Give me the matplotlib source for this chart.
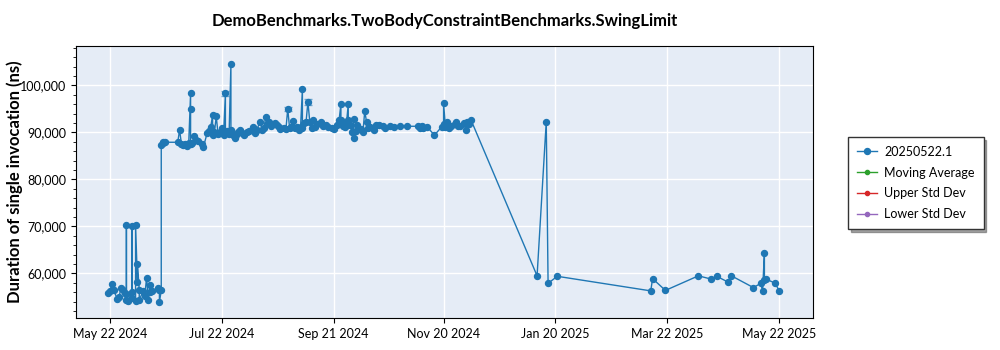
import matplotlib
matplotlib.use("Agg")
import matplotlib.pyplot as plt
import matplotlib.dates as mdates
import matplotlib.ticker as mticker
import pandas as pd

plt.rcParams['font.family'] = ['Lato', 'DejaVu Sans']

title = "DemoBenchmarks.TwoBodyConstraintBenchmarks.SwingLimit"
ylabel = "Duration of single invocation (ns)"
series_name = "20250522.1"

dates = [
    "2024-05-21", "2024-05-22", "2024-05-23", "2024-05-24", "2024-05-26", "2024-05-27",
    "2024-05-28", "2024-05-29", "2024-05-30", "2024-05-31", "2024-05-31", "2024-05-31",
    "2024-06-01", "2024-06-03", "2024-06-03", "2024-06-03", "2024-06-05", "2024-06-05",
    "2024-06-06", "2024-06-06", "2024-06-07", "2024-06-07", "2024-06-09", "2024-06-10",
    "2024-06-11", "2024-06-12", "2024-06-13", "2024-06-13", "2024-06-14", "2024-06-17",
    "2024-06-18", "2024-06-18", "2024-06-19", "2024-06-19", "2024-06-20", "2024-06-20",
    "2024-06-21",
    "2024-06-28", "2024-06-29", "2024-06-30", "2024-07-01", "2024-07-02", "2024-07-03",
    "2024-07-04", "2024-07-05", "2024-07-05", "2024-07-05", "2024-07-06", "2024-07-07",
    "2024-07-08", "2024-07-09", "2024-07-11", "2024-07-12", "2024-07-14", "2024-07-15",
    "2024-07-16", "2024-07-17", "2024-07-17", "2024-07-18", "2024-07-19", "2024-07-20",
    "2024-07-21", "2024-07-22", "2024-07-23", "2024-07-24", "2024-07-24", "2024-07-25",
    "2024-07-26", "2024-07-27", "2024-07-27", "2024-07-28", "2024-07-29", "2024-07-30",
    "2024-07-31", "2024-08-01", "2024-08-02", "2024-08-03", "2024-08-05", "2024-08-06",
    "2024-08-08", "2024-08-09", "2024-08-10", "2024-08-12", "2024-08-13", "2024-08-14",
    "2024-08-15", "2024-08-16", "2024-08-17", "2024-08-18", "2024-08-20", "2024-08-21",
    "2024-08-22", "2024-08-23", "2024-08-25", "2024-08-26", "2024-08-27", "2024-08-28",
    "2024-08-29", "2024-08-30", "2024-08-31", "2024-09-01", "2024-09-02", "2024-09-03",
    "2024-09-04", "2024-09-04", "2024-09-05", "2024-09-06", "2024-09-07", "2024-09-08",
    "2024-09-09", "2024-09-10", "2024-09-11", "2024-09-12", "2024-09-14", "2024-09-15",
    "2024-09-17", "2024-09-18", "2024-09-20", "2024-09-21", "2024-09-23", "2024-09-24",
    "2024-09-25", "2024-09-25", "2024-09-26", "2024-09-27", "2024-09-28", "2024-09-29",
    "2024-09-29", "2024-09-30", "2024-10-01", "2024-10-02", "2024-10-02", "2024-10-03",
    "2024-10-04", "2024-10-06", "2024-10-07", "2024-10-08", "2024-10-09", "2024-10-10",
    "2024-10-11", "2024-10-13", "2024-10-14", "2024-10-16", "2024-10-18", "2024-10-19",
    "2024-10-22", "2024-10-24", "2024-10-27", "2024-10-31", "2024-11-06", "2024-11-07",
    "2024-11-08", "2024-11-09", "2024-11-11", "2024-11-15", "2024-11-19", "2024-11-20",
    "2024-11-20", "2024-11-21", "2024-11-22", "2024-11-23", "2024-11-24", "2024-11-26",
    "2024-11-27", "2024-11-28", "2024-11-29", "2024-12-01", "2024-12-02", "2024-12-03",
    "2024-12-04", "2024-12-05",
    "2025-01-10", "2025-01-15", "2025-01-16", "2025-01-21", "2025-03-13", "2025-03-14",
    "2025-03-21", "2025-04-08", "2025-04-15", "2025-04-18", "2025-04-24", "2025-04-26",
    "2025-05-08", "2025-05-12", "2025-05-13", "2025-05-14", "2025-05-14", "2025-05-15",
    "2025-05-20", "2025-05-22",
]

durations = [
    55900, 56200, 57700, 56500, 54600, 54900,
    57000, 56400, 55800, 54300, 70300, 55600,
    54200, 56100, 70200, 54700, 54100, 70400,
    58200, 62000, 56500, 54300, 56200, 55200,
    59100, 54300, 57600, 56000, 56200, 57000,
    56500, 53900, 56400, 87300, 87700, 88000,
    87900,
    87900, 90500, 87600, 87300, 87500, 87200,
    87800, 98300, 94900, 87600, 87800, 89200,
    88300, 88100, 87600, 86900, 89800, 90200,
    91200, 93600, 89400, 90000, 93400, 89600,
    90100, 90900, 89500, 98300, 89900, 90300,
    89600, 104500, 90500, 89400, 88800, 89500,
    90000, 90500, 89800, 89400, 90100, 90200,
    91200, 89800, 90600, 92200, 90500, 90900,
    93300, 91900, 92200, 91300, 91900, 91500,
    91200, 90800, 91000, 90700, 95000, 90900,
    91200, 92500, 91000, 91200, 90600, 91200,
    99300, 91000, 91900, 92300, 96500, 92300,
    91000, 92600, 91200, 91800, 92300, 91400,
    91600, 91200, 90900, 90800, 91600, 92600,
    96000, 92600, 91300, 91200, 91800, 96000,
    92600, 91500, 90100, 92900, 88700, 90400,
    91600, 90800, 90100, 94500, 92200, 91000,
    91200, 90500, 91600, 91500, 91300, 91000,
    91300, 91100, 91300, 91300, 91300, 90900,
    91300, 90900, 91200, 89400, 91200, 91700,
    96200, 91200, 92200, 91000, 91400, 91800,
    92200, 91400, 91300, 92100, 90500, 92300,
    91800, 92600,
    59500, 92300, 57900, 59400, 56300, 58900,
    56400, 59500, 58800, 59400, 58200, 59500,
    57000, 57900, 56300, 64400, 58600, 58800,
    57900, 56300,
]

# runs that reported a visible spread
spread_dates = ["2024-07-24", "2024-08-27", "2024-09-07"]
spread_values = [98300, 95000, 96500]
spread_errs = [600, 500, 600]

tick_dates = ["2024-05-22", "2024-07-22", "2024-09-21", "2024-11-20",
              "2025-01-20", "2025-03-22", "2025-05-22"]

blue = "#1f77b4"
x = pd.to_datetime(dates)

fig = plt.figure(figsize=(10, 3.5), dpi=100)
ax = fig.add_axes([0.076, 0.091, 0.737, 0.778])
ax.set_facecolor("#E5ECF6")

ax.plot(x, durations, color=blue, linewidth=1, marker="o", markersize=4.3,
        label=series_name, zorder=3)
ax.errorbar(pd.to_datetime(spread_dates), spread_values, yerr=spread_errs,
            fmt="none", ecolor=blue, elinewidth=1, capsize=3, alpha=0.6, zorder=3)

# empty statistic series, only shown in the legend
ax.plot([], [], color="#2ca02c", linewidth=1, marker="o", markersize=3, label="Moving Average")
ax.plot([], [], color="#d62728", linewidth=1, marker="o", markersize=3, label="Upper Std Dev")
ax.plot([], [], color="#9467bd", linewidth=1, marker="o", markersize=3, label="Lower Std Dev")

ax.set_xlim(pd.Timestamp("2024-05-03 12:00"), pd.Timestamp("2025-06-09 12:00"))
ax.set_ylim(50500, 108400)
ax.set_xticks(pd.to_datetime(tick_dates))
ax.xaxis.set_major_formatter(mdates.DateFormatter("%b %d %Y"))
ax.yaxis.set_major_locator(mticker.MultipleLocator(10000))
ax.yaxis.set_minor_locator(mticker.MultipleLocator(2000))
ax.yaxis.set_major_formatter(mticker.StrMethodFormatter("{x:,.0f}"))
ax.tick_params(labelsize=9)
ax.grid(True, color="white", linewidth=1)
ax.set_axisbelow(True)
for s in ax.spines.values():
    s.set_color("black")

ax.set_title(title, fontsize=12, fontweight="bold", pad=14)
ax.set_ylabel(ylabel, fontsize=12, fontweight="bold")
ax.yaxis.set_label_coords(-0.072, 0.5)

leg = ax.legend(loc="upper left", bbox_to_anchor=(1.0475, 0.665), borderaxespad=0,
                fontsize=9, frameon=True, fancybox=False, shadow=True,
                edgecolor="#333333", handlelength=1.6, handletextpad=0.6,
                borderpad=0.7, labelspacing=0.7)
leg.get_frame().set_linewidth(1)

fig.savefig("out.png", dpi=100)
